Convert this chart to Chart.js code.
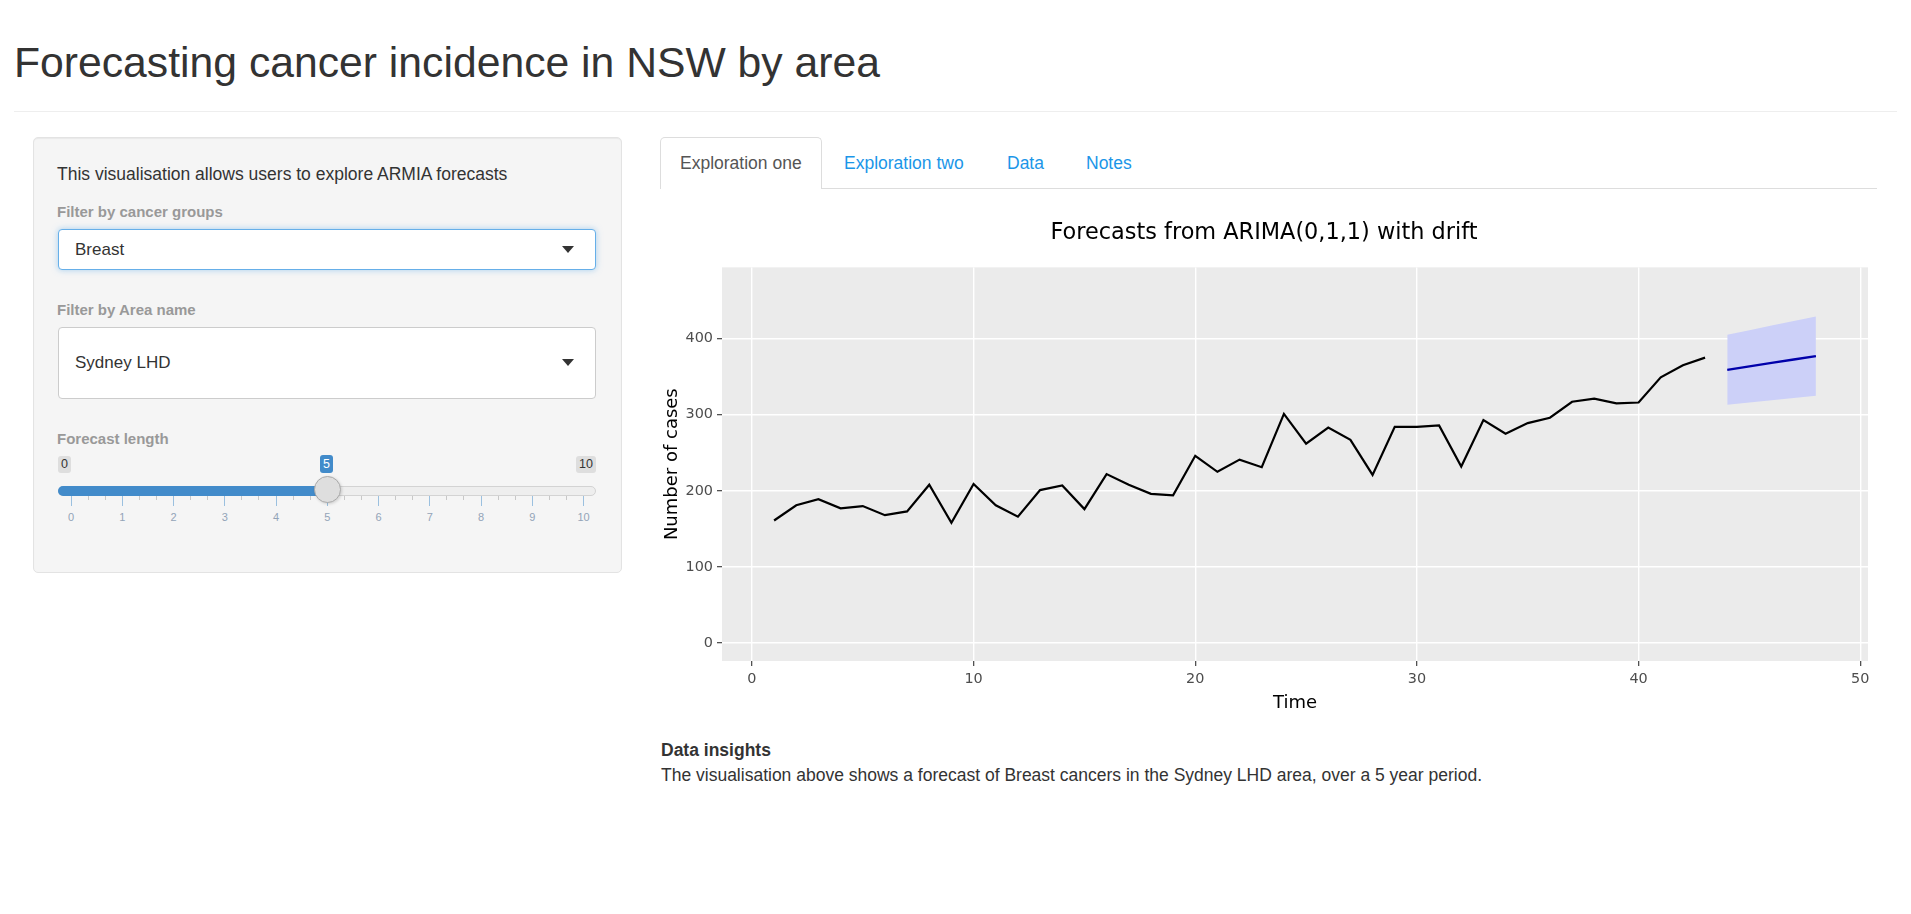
<!DOCTYPE html>
<html>
<head>
<meta charset="utf-8">
<title>Forecasting cancer incidence in NSW by area</title>
<script src="https://cdn.jsdelivr.net/npm/chart.js@4.4.1/dist/chart.umd.min.js"></script>
<style>
  body { margin: 0; background: #fff; font-family: "Liberation Sans", Arial, sans-serif; color: #333; }
  .abs { position: absolute; white-space: nowrap; }
  h1 { position: absolute; left: 14px; top: 41px; margin: 0; font-size: 42.7px; line-height: 43px; font-weight: normal; color: #333; }
  .rule { position: absolute; left: 14px; right: 14px; top: 111px; border-top: 1px solid #eee; }
  .well { position: absolute; left: 33px; top: 137px; width: 587px; height: 434px; background: #f5f5f5;
          border: 1px solid #e3e3e3; border-radius: 5px; box-shadow: inset 0 1px 1px rgba(0,0,0,.05); }
  .txt17 { font-size: 17.5px; line-height: 17px; }
  .lbl { font-size: 15px; line-height: 15px; font-weight: bold; color: #999; }
  .select { position: absolute; background: #fff; border-radius: 4px; box-sizing: border-box;
            display: flex; align-items: center; padding-left: 16px; font-size: 17px; color: #333; }
  .caret { position: absolute; width: 0; height: 0; border-left: 6px solid transparent;
           border-right: 6px solid transparent; border-top: 7px solid #333; }
  .irs-box { position: absolute; top: 456px; height: 17px; line-height: 17px; font-size: 12.5px;
             padding: 0 3px; border-radius: 3px; }
  .tick { position: absolute; width: 1px; }
  .gtxt { position: absolute; top: 511px; font-size: 11px; line-height: 13px; color: #93a4b8; width: 20px; text-align: center; }
  .tabline { position: absolute; left: 660px; top: 188px; width: 1217px; border-top: 1px solid #ddd; }
  .tab-active { position: absolute; left: 660px; top: 137px; width: 162px; height: 52px; background: #fff;
                border: 1px solid #ddd; border-bottom: none; border-radius: 5px 5px 0 0; box-sizing: border-box; }
  .tab { color: #1b96e8; }
  #chartWrap { position: absolute; left: 660px; top: 205px; width: 1217px; height: 515px; }
</style>
</head>
<body>

<h1>Forecasting cancer incidence in NSW by area</h1>
<div class="rule"></div>

<div class="well"></div>
<div class="abs txt17" style="left:57px; top:166px;">This visualisation allows users to explore ARMIA forecasts</div>

<div class="abs lbl" style="left:57px; top:204px;">Filter by cancer groups</div>
<div class="select" style="left:58px; top:229px; width:538px; height:41px; border:1px solid #66afe9; box-shadow:0 0 6px rgba(102,175,233,.55);">Breast</div>
<div class="caret" style="left:562px; top:246px;"></div>

<div class="abs lbl" style="left:57px; top:302px;">Filter by Area name</div>
<div class="select" style="left:58px; top:327px; width:538px; height:72px; border:1px solid #ccc;">Sydney LHD</div>
<div class="caret" style="left:562px; top:359px;"></div>

<div class="abs lbl" style="left:57px; top:431px;">Forecast length</div>
<div id="slider"></div>

<div class="tabline"></div>
<div class="tab-active"></div>
<div class="abs txt17" style="left:680px; top:155px; color:#555;">Exploration one</div>
<div class="abs txt17 tab" style="left:844px; top:155px;">Exploration two</div>
<div class="abs txt17 tab" style="left:1007px; top:155px;">Data</div>
<div class="abs txt17 tab" style="left:1086px; top:155px;">Notes</div>

<div id="chartWrap"><canvas id="fcChart" width="1217" height="515"></canvas></div>

<div class="abs txt17" style="left:661px; top:742px; font-weight:bold;">Data insights</div>
<div class="abs txt17" style="left:661px; top:767px;">The visualisation above shows a forecast of Breast cancers in the Sydney LHD area, over a 5 year period.</div>

<script>
// Observed series (Time 1..43)
const years = [1, 2, 3, 4, 5, 6, 7, 8, 9, 10, 11, 12, 13, 14, 15, 16, 17, 18, 19, 20, 21, 22,
  23, 24, 25, 26, 27, 28, 29, 30, 31, 32, 33, 34, 35, 36, 37, 38, 39, 40, 41, 42, 43];
const cases = [161, 181, 189, 177, 180, 168, 173, 208, 158, 209, 181, 166, 201, 207, 176, 222, 208, 196, 194, 246, 225, 241,
  231, 301, 262, 283, 267, 221, 284, 284, 286, 232, 293, 275, 289, 296, 317, 321, 315, 316, 349, 365, 375];

// Forecast, 5 steps ahead
const fcYears = [44, 45, 46, 47, 48];
const fcMean = [359, 363.5, 368, 372.5, 377];
const fcLower = [313, 316, 319, 322, 325];
const fcUpper = [405, 411, 417, 423, 429];

const xTicks = [0, 10, 20, 30, 40, 50];
const yTicks = [0, 100, 200, 300, 400];
const sliderValues = [0, 1, 2, 3, 4, 5, 6, 7, 8, 9, 10];

/**
 * Slider widget (static look of the shiny range slider)
 */
function buildSlider() {
  const host = document.getElementById('slider');
  let html = '';
  html += '<div class="abs" style="left:58px; top:486px; width:538px; height:10px; box-sizing:border-box; background:#eee; border:1px solid #d3d3d3; border-radius:5px;"></div>';
  html += '<div class="abs" style="left:58px; top:486px; width:270px; height:10px; background:#428bca; border-radius:5px 0 0 5px;"></div>';
  const x0 = 71, step = 51.25;
  sliderValues.forEach((v, i) => {
    const x = x0 + i * step;
    html += `<div class="tick" style="left:${x - 0.5}px; top:496px; height:10px; background:rgba(66,139,202,.5);"></div>`;
    html += `<div class="gtxt" style="left:${x - 10}px;">${v}</div>`;
    if (i < sliderValues.length - 1) {
      for (let k = 1; k < 3; k++) {
        html += `<div class="tick" style="left:${x + k * step / 3 - 0.5}px; top:496px; height:4px; background:#c8c8c8;"></div>`;
      }
    }
  });
  html += '<div class="abs" style="left:314px; top:476px; width:27px; height:27px; box-sizing:border-box; border-radius:50%; background:#dedede; border:1px solid #aaa; box-shadow:1px 1px 3px rgba(0,0,0,.15);"></div>';
  html += '<div class="irs-box" style="left:58px; background:#dedede; color:#333;">0</div>';
  html += '<div class="irs-box" style="left:576px; background:#dedede; color:#333;">10</div>';
  html += '<div class="irs-box" style="left:320px; top:455px; height:18px; line-height:18px; background:#428bca; color:#fff;">5</div>';
  host.innerHTML = html;
}

// Grey ggplot-like panel behind the plot area
const panelBg = {
  id: 'panelBg',
  beforeDraw(chart) {
    const a = chart.chartArea;
    const ctx = chart.ctx;
    ctx.save();
    ctx.fillStyle = '#ebebeb';
    ctx.fillRect(a.left, a.top, a.right - a.left, a.bottom - a.top);
    ctx.restore();
  }
};

function initializeChart() {
  const font = 'DejaVu Sans';
  const gridOpts = { color: '#ffffff', lineWidth: 1.4, tickLength: 5, tickColor: '#333333', tickWidth: 1.1 };

  new Chart(document.getElementById('fcChart'), {
    type: 'line',
    data: {
      datasets: [
        {
          label: 'Forecast',
          data: fcYears.map((t, i) => ({ x: t, y: fcMean[i] })),
          borderColor: '#0000aa',
          borderWidth: 2.3,
          pointRadius: 0,
          fill: false
        },
        {
          label: 'Cases',
          data: years.map((t, i) => ({ x: t, y: cases[i] })),
          borderColor: '#000000',
          borderWidth: 2.2,
          pointRadius: 0,
          fill: false
        },
        {
          label: 'Lower',
          data: fcYears.map((t, i) => ({ x: t, y: fcLower[i] })),
          borderWidth: 0,
          borderColor: 'rgba(0,0,0,0)',
          pointRadius: 0,
          fill: false
        },
        {
          label: 'Upper',
          data: fcYears.map((t, i) => ({ x: t, y: fcUpper[i] })),
          borderWidth: 0,
          borderColor: 'rgba(0,0,0,0)',
          backgroundColor: '#ccd0f8',
          pointRadius: 0,
          fill: '-1'
        }
      ]
    },
    options: {
      responsive: false,
      animation: false,
      layout: { padding: { left: 0, right: 9, top: 0, bottom: 0 } },
      plugins: {
        legend: { display: false },
        tooltip: { enabled: false },
        title: {
          display: true,
          text: 'Forecasts from ARIMA(0,1,1) with drift',
          color: '#000000',
          font: { family: font, size: 22.4, weight: 'normal' },
          padding: { top: 14.5, bottom: 21 }
        }
      },
      scales: {
        x: {
          type: 'linear',
          min: -1.35,
          max: 50.35,
          afterBuildTicks: s => { s.ticks = xTicks.map(v => ({ value: v })); },
          afterFit: s => { s.height = 59; },
          grid: gridOpts,
          border: { display: false },
          ticks: { color: '#4d4d4d', font: { family: font, size: 14.4 }, padding: 5, maxRotation: 0, autoSkip: false },
          title: { display: true, text: 'Time', color: '#000000', font: { family: font, size: 18 }, padding: { top: 0, bottom: 6 } }
        },
        y: {
          type: 'linear',
          min: -23.5,
          max: 493.5,
          afterBuildTicks: s => { s.ticks = yTicks.map(v => ({ value: v })); },
          afterFit: s => { s.width = 62; },
          grid: gridOpts,
          border: { display: false },
          ticks: { color: '#4d4d4d', font: { family: font, size: 14.4 }, padding: 4 },
          title: { display: true, text: 'Number of cases', color: '#000000', font: { family: font, size: 18 }, padding: { top: 2, bottom: 0 } }
        }
      }
    },
    plugins: [panelBg]
  });
}

buildSlider();
initializeChart();
</script>
</body>
</html>
